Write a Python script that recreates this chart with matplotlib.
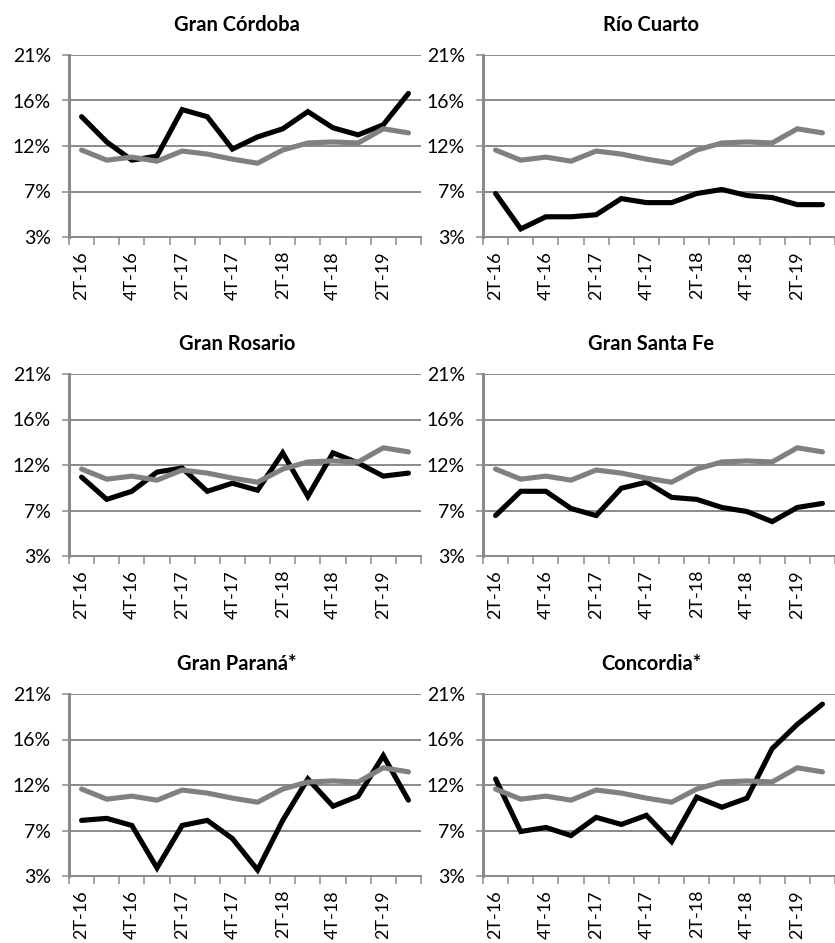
import matplotlib
matplotlib.use('Agg')
import matplotlib.pyplot as plt
from matplotlib.ticker import FixedLocator

# ---------------- data ----------------
quarters = ['2T-16', '3T-16', '4T-16', '1T-17', '2T-17', '3T-17', '4T-17',
            '1T-18', '2T-18', '3T-18', '4T-18', '1T-19', '2T-19', '3T-19']

# reference series (gray), identical in every panel
reference = [0.111, 0.101, 0.104, 0.100, 0.110, 0.107, 0.102,
             0.098, 0.111, 0.118, 0.119, 0.118, 0.132, 0.128]

gran_cordoba = [0.144, 0.119, 0.101, 0.105, 0.151, 0.144, 0.112,
                0.124, 0.132, 0.149, 0.133, 0.126, 0.136, 0.167]
rio_cuarto = [0.068, 0.033, 0.045, 0.045, 0.047, 0.063, 0.059,
              0.059, 0.068, 0.072, 0.066, 0.064, 0.057, 0.057]
gran_rosario = [0.103, 0.081, 0.089, 0.108, 0.112, 0.089, 0.097,
                0.090, 0.127, 0.084, 0.127, 0.117, 0.104, 0.107]
gran_santa_fe = [0.065, 0.089, 0.089, 0.072, 0.065, 0.092, 0.098,
                 0.083, 0.081, 0.073, 0.069, 0.059, 0.073, 0.077]
gran_parana = [0.080, 0.082, 0.075, 0.033, 0.075, 0.080, 0.062,
               0.031, 0.080, 0.121, 0.094, 0.104, 0.144, 0.100]
concordia = [0.121, 0.069, 0.073, 0.065, 0.083, 0.076, 0.085,
             0.059, 0.103, 0.093, 0.102, 0.151, 0.175, 0.195]

titles = ['Gran Córdoba', 'Río Cuarto', 'Gran Rosario', 'Gran Santa Fe',
          'Gran Paraná*', 'Concordia*']
series = [gran_cordoba, rio_cuarto, gran_rosario, gran_santa_fe,
          gran_parana, concordia]

ytick_values = [0.025, 0.07, 0.115, 0.16, 0.205]
ytick_labels = ['3%', '7%', '12%', '16%', '21%']

# ---------------- style ----------------
plt.rcParams['font.family'] = ['Lato', 'DejaVu Sans']
W, H = 835, 943
fig = plt.figure(figsize=(W / 100, H / 100), dpi=100)

axis_gray = '#8a8a8a'
line_gray = '#808080'

col_x = [69, 483]
row_top = [55, 374, 694]
ax_w = 352
ax_h = 182

n = len(quarters)
xpos = list(range(n))

for i, (title, vals) in enumerate(zip(titles, series)):
    r, c = divmod(i, 2)
    x0 = col_x[c]
    y0 = row_top[r]
    ax = fig.add_axes([x0 / W, 1 - (y0 + ax_h) / H, ax_w / W, ax_h / H])
    ax.set_xlim(-0.5, n - 0.5)
    ax.set_ylim(ytick_values[0], ytick_values[-1])

    ax.plot(xpos, vals, color='black', lw=3.7, solid_capstyle='round',
            solid_joinstyle='miter', zorder=3, clip_on=False)
    ax.plot(xpos, reference, color=line_gray, lw=3.7, solid_capstyle='round',
            solid_joinstyle='miter', zorder=4, clip_on=False)

    # grid / axes
    ax.set_yticks(ytick_values)
    ax.set_yticklabels(ytick_labels)
    ax.yaxis.grid(True, color=axis_gray, lw=1.4)
    ax.set_axisbelow(True)
    ax.tick_params(axis='y', length=5, width=1.1, color=axis_gray,
                   labelsize=14, pad=8, labelcolor='black')

    ax.set_xticks(xpos[::2])
    ax.set_xticklabels(quarters[::2], rotation=90)
    ax.xaxis.set_minor_locator(FixedLocator([k - 0.5 for k in range(n + 1)]))
    ax.tick_params(axis='x', which='major', length=0, labelsize=13,
                   pad=10, labelcolor='black')
    ax.tick_params(axis='x', which='minor', length=5.5, width=1.1,
                   color=axis_gray)

    for s in ['top', 'right']:
        ax.spines[s].set_visible(False)
    ax.spines['left'].set_color(axis_gray)
    ax.spines['left'].set_linewidth(2.2)
    ax.spines['bottom'].set_color(axis_gray)
    ax.spines['bottom'].set_linewidth(1.4)
    ax.patch.set_alpha(0)

    tx = x0 + ax_w / 2 - 8
    ty = y0 - 24
    fig.text(tx / W, 1 - ty / H, title, ha='center', va='baseline',
             fontsize=14.5, fontweight='bold')

fig.savefig('out.png', dpi=100)
